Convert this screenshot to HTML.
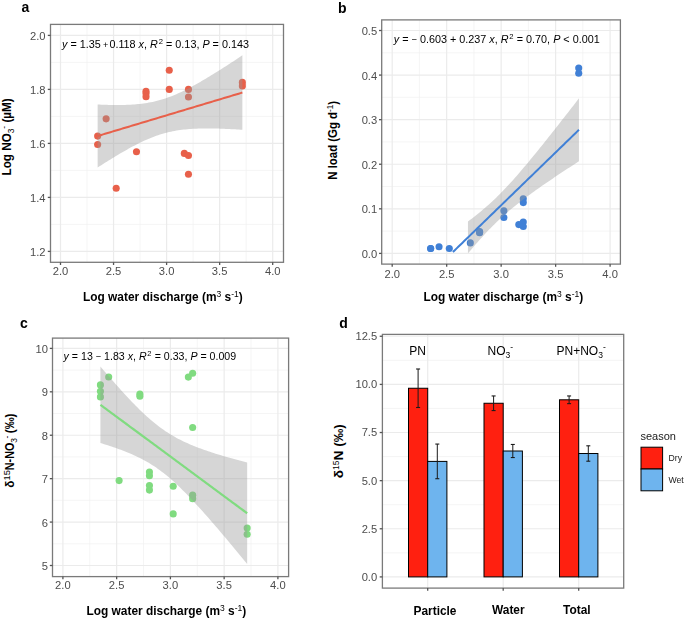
<!DOCTYPE html>
<html><head><meta charset="utf-8"><style>
html,body{margin:0;padding:0;background:#fff;width:685px;height:619px;overflow:hidden}
svg{display:block;font-family:"Liberation Sans", sans-serif}
svg text:not([transform]){will-change:transform}
</style></head><body>
<svg width="685" height="619" viewBox="0 0 685 619">
<rect x="0" y="0" width="685" height="619" fill="#fff"/>
<line x1="87.03" y1="24.40" x2="87.03" y2="262.30" stroke="#F0F0F0" stroke-width="0.7" />
<line x1="140.07" y1="24.40" x2="140.07" y2="262.30" stroke="#F0F0F0" stroke-width="0.7" />
<line x1="193.12" y1="24.40" x2="193.12" y2="262.30" stroke="#F0F0F0" stroke-width="0.7" />
<line x1="246.17" y1="24.40" x2="246.17" y2="262.30" stroke="#F0F0F0" stroke-width="0.7" />
<line x1="50.50" y1="224.40" x2="283.50" y2="224.40" stroke="#F0F0F0" stroke-width="0.7" />
<line x1="50.50" y1="170.40" x2="283.50" y2="170.40" stroke="#F0F0F0" stroke-width="0.7" />
<line x1="50.50" y1="116.40" x2="283.50" y2="116.40" stroke="#F0F0F0" stroke-width="0.7" />
<line x1="50.50" y1="62.40" x2="283.50" y2="62.40" stroke="#F0F0F0" stroke-width="0.7" />
<line x1="60.50" y1="24.40" x2="60.50" y2="262.30" stroke="#EBEBEB" stroke-width="1.2" />
<line x1="113.55" y1="24.40" x2="113.55" y2="262.30" stroke="#EBEBEB" stroke-width="1.2" />
<line x1="166.60" y1="24.40" x2="166.60" y2="262.30" stroke="#EBEBEB" stroke-width="1.2" />
<line x1="219.65" y1="24.40" x2="219.65" y2="262.30" stroke="#EBEBEB" stroke-width="1.2" />
<line x1="272.70" y1="24.40" x2="272.70" y2="262.30" stroke="#EBEBEB" stroke-width="1.2" />
<line x1="50.50" y1="251.40" x2="283.50" y2="251.40" stroke="#EBEBEB" stroke-width="1.2" />
<line x1="50.50" y1="197.40" x2="283.50" y2="197.40" stroke="#EBEBEB" stroke-width="1.2" />
<line x1="50.50" y1="143.40" x2="283.50" y2="143.40" stroke="#EBEBEB" stroke-width="1.2" />
<line x1="50.50" y1="89.40" x2="283.50" y2="89.40" stroke="#EBEBEB" stroke-width="1.2" />
<line x1="50.50" y1="35.40" x2="283.50" y2="35.40" stroke="#EBEBEB" stroke-width="1.2" />
<circle cx="97.64" cy="136.11" r="3.55" fill="#E8604A"/>
<circle cx="97.64" cy="144.48" r="3.55" fill="#E8604A"/>
<circle cx="106.12" cy="118.83" r="3.55" fill="#E8604A"/>
<circle cx="136.47" cy="151.77" r="3.55" fill="#E8604A"/>
<circle cx="116.20" cy="188.22" r="3.55" fill="#E8604A"/>
<circle cx="146.02" cy="91.29" r="3.55" fill="#E8604A"/>
<circle cx="146.02" cy="93.45" r="3.55" fill="#E8604A"/>
<circle cx="146.02" cy="96.69" r="3.55" fill="#E8604A"/>
<circle cx="169.25" cy="70.23" r="3.55" fill="#E8604A"/>
<circle cx="169.25" cy="89.40" r="3.55" fill="#E8604A"/>
<circle cx="188.46" cy="89.40" r="3.55" fill="#E8604A"/>
<circle cx="188.46" cy="96.96" r="3.55" fill="#E8604A"/>
<circle cx="184.32" cy="153.39" r="3.55" fill="#E8604A"/>
<circle cx="188.46" cy="155.55" r="3.55" fill="#E8604A"/>
<circle cx="188.46" cy="174.18" r="3.55" fill="#E8604A"/>
<circle cx="242.36" cy="82.38" r="3.55" fill="#E8604A"/>
<circle cx="242.36" cy="85.89" r="3.55" fill="#E8604A"/>
<path d="M97.64,104.54 L99.47,104.62 L101.30,104.69 L103.13,104.75 L104.96,104.81 L106.79,104.86 L108.63,104.90 L110.46,104.94 L112.29,104.97 L114.12,104.99 L115.95,104.99 L117.79,104.99 L119.62,104.98 L121.45,104.96 L123.28,104.92 L125.11,104.88 L126.95,104.81 L128.78,104.74 L130.61,104.64 L132.44,104.53 L134.27,104.41 L136.10,104.26 L137.94,104.09 L139.77,103.90 L141.60,103.69 L143.43,103.46 L145.26,103.20 L147.10,102.91 L148.93,102.60 L150.76,102.25 L152.59,101.88 L154.42,101.48 L156.26,101.04 L158.09,100.58 L159.92,100.08 L161.75,99.55 L163.58,98.99 L165.42,98.39 L167.25,97.76 L169.08,97.10 L170.91,96.41 L172.74,95.69 L174.57,94.94 L176.41,94.16 L178.24,93.35 L180.07,92.51 L181.90,91.65 L183.73,90.77 L185.57,89.86 L187.40,88.93 L189.23,87.98 L191.06,87.01 L192.89,86.03 L194.73,85.02 L196.56,84.00 L198.39,82.97 L200.22,81.92 L202.05,80.86 L203.89,79.78 L205.72,78.70 L207.55,77.60 L209.38,76.49 L211.21,75.37 L213.04,74.25 L214.88,73.11 L216.71,71.97 L218.54,70.82 L220.37,69.67 L222.20,68.50 L224.04,67.33 L225.87,66.16 L227.70,64.98 L229.53,63.79 L231.36,62.60 L233.20,61.41 L235.03,60.21 L236.86,59.01 L238.69,57.80 L240.52,56.59 L242.36,55.37 L242.36,129.77 L240.52,129.66 L238.69,129.54 L236.86,129.44 L235.03,129.34 L233.20,129.24 L231.36,129.14 L229.53,129.05 L227.70,128.97 L225.87,128.89 L224.04,128.81 L222.20,128.74 L220.37,128.68 L218.54,128.62 L216.71,128.57 L214.88,128.53 L213.04,128.50 L211.21,128.47 L209.38,128.46 L207.55,128.45 L205.72,128.45 L203.89,128.46 L202.05,128.49 L200.22,128.53 L198.39,128.58 L196.56,128.64 L194.73,128.72 L192.89,128.82 L191.06,128.93 L189.23,129.07 L187.40,129.22 L185.57,129.39 L183.73,129.58 L181.90,129.80 L180.07,130.04 L178.24,130.30 L176.41,130.59 L174.57,130.91 L172.74,131.26 L170.91,131.64 L169.08,132.05 L167.25,132.49 L165.42,132.96 L163.58,133.46 L161.75,134.00 L159.92,134.57 L158.09,135.17 L156.26,135.81 L154.42,136.47 L152.59,137.17 L150.76,137.90 L148.93,138.66 L147.10,139.44 L145.26,140.26 L143.43,141.10 L141.60,141.96 L139.77,142.85 L137.94,143.76 L136.10,144.70 L134.27,145.65 L132.44,146.62 L130.61,147.61 L128.78,148.62 L126.95,149.64 L125.11,150.68 L123.28,151.73 L121.45,152.80 L119.62,153.87 L117.79,154.96 L115.95,156.06 L114.12,157.17 L112.29,158.29 L110.46,159.42 L108.63,160.55 L106.79,161.70 L104.96,162.85 L103.13,164.01 L101.30,165.17 L99.47,166.34 L97.64,167.52 Z" fill="#999999" fill-opacity="0.4"/>
<path d="M97.64,136.03 L99.47,135.48 L101.30,134.93 L103.13,134.38 L104.96,133.83 L106.79,133.28 L108.63,132.73 L110.46,132.18 L112.29,131.63 L114.12,131.08 L115.95,130.53 L117.79,129.98 L119.62,129.43 L121.45,128.88 L123.28,128.33 L125.11,127.78 L126.95,127.23 L128.78,126.68 L130.61,126.13 L132.44,125.58 L134.27,125.03 L136.10,124.48 L137.94,123.93 L139.77,123.38 L141.60,122.83 L143.43,122.28 L145.26,121.73 L147.10,121.18 L148.93,120.63 L150.76,120.08 L152.59,119.53 L154.42,118.98 L156.26,118.43 L158.09,117.88 L159.92,117.33 L161.75,116.78 L163.58,116.23 L165.42,115.68 L167.25,115.13 L169.08,114.58 L170.91,114.03 L172.74,113.48 L174.57,112.93 L176.41,112.38 L178.24,111.83 L180.07,111.27 L181.90,110.72 L183.73,110.17 L185.57,109.62 L187.40,109.07 L189.23,108.52 L191.06,107.97 L192.89,107.42 L194.73,106.87 L196.56,106.32 L198.39,105.77 L200.22,105.22 L202.05,104.67 L203.89,104.12 L205.72,103.57 L207.55,103.02 L209.38,102.47 L211.21,101.92 L213.04,101.37 L214.88,100.82 L216.71,100.27 L218.54,99.72 L220.37,99.17 L222.20,98.62 L224.04,98.07 L225.87,97.52 L227.70,96.97 L229.53,96.42 L231.36,95.87 L233.20,95.32 L235.03,94.77 L236.86,94.22 L238.69,93.67 L240.52,93.12 L242.36,92.57" fill="none" stroke="#E8604A" stroke-width="2"/>
<rect x="50.50" y="24.40" width="233.00" height="237.90" fill="none" stroke="#7a7a7a" stroke-width="1.3"/>
<line x1="60.50" y1="262.30" x2="60.50" y2="265.00" stroke="#555555" stroke-width="1.3" />
<text x="60.50" y="275.20" font-size="11.2" text-anchor="middle" font-weight="normal" fill="#4D4D4D"  >2.0</text>
<line x1="113.55" y1="262.30" x2="113.55" y2="265.00" stroke="#555555" stroke-width="1.3" />
<text x="113.55" y="275.20" font-size="11.2" text-anchor="middle" font-weight="normal" fill="#4D4D4D"  >2.5</text>
<line x1="166.60" y1="262.30" x2="166.60" y2="265.00" stroke="#555555" stroke-width="1.3" />
<text x="166.60" y="275.20" font-size="11.2" text-anchor="middle" font-weight="normal" fill="#4D4D4D"  >3.0</text>
<line x1="219.65" y1="262.30" x2="219.65" y2="265.00" stroke="#555555" stroke-width="1.3" />
<text x="219.65" y="275.20" font-size="11.2" text-anchor="middle" font-weight="normal" fill="#4D4D4D"  >3.5</text>
<line x1="272.70" y1="262.30" x2="272.70" y2="265.00" stroke="#555555" stroke-width="1.3" />
<text x="272.70" y="275.20" font-size="11.2" text-anchor="middle" font-weight="normal" fill="#4D4D4D"  >4.0</text>
<line x1="47.80" y1="251.40" x2="50.50" y2="251.40" stroke="#555555" stroke-width="1.3" />
<text x="45.60" y="255.82" font-size="11.2" text-anchor="end" font-weight="normal" fill="#4D4D4D"  >1.2</text>
<line x1="47.80" y1="197.40" x2="50.50" y2="197.40" stroke="#555555" stroke-width="1.3" />
<text x="45.60" y="201.82" font-size="11.2" text-anchor="end" font-weight="normal" fill="#4D4D4D"  >1.4</text>
<line x1="47.80" y1="143.40" x2="50.50" y2="143.40" stroke="#555555" stroke-width="1.3" />
<text x="45.60" y="147.82" font-size="11.2" text-anchor="end" font-weight="normal" fill="#4D4D4D"  >1.6</text>
<line x1="47.80" y1="89.40" x2="50.50" y2="89.40" stroke="#555555" stroke-width="1.3" />
<text x="45.60" y="93.82" font-size="11.2" text-anchor="end" font-weight="normal" fill="#4D4D4D"  >1.8</text>
<line x1="47.80" y1="35.40" x2="50.50" y2="35.40" stroke="#555555" stroke-width="1.3" />
<text x="45.60" y="39.82" font-size="11.2" text-anchor="end" font-weight="normal" fill="#4D4D4D"  >2.0</text>
<line x1="419.44" y1="19.90" x2="419.44" y2="264.10" stroke="#F0F0F0" stroke-width="0.7" />
<line x1="473.91" y1="19.90" x2="473.91" y2="264.10" stroke="#F0F0F0" stroke-width="0.7" />
<line x1="528.39" y1="19.90" x2="528.39" y2="264.10" stroke="#F0F0F0" stroke-width="0.7" />
<line x1="582.86" y1="19.90" x2="582.86" y2="264.10" stroke="#F0F0F0" stroke-width="0.7" />
<line x1="381.70" y1="231.11" x2="620.40" y2="231.11" stroke="#F0F0F0" stroke-width="0.7" />
<line x1="381.70" y1="186.53" x2="620.40" y2="186.53" stroke="#F0F0F0" stroke-width="0.7" />
<line x1="381.70" y1="141.95" x2="620.40" y2="141.95" stroke="#F0F0F0" stroke-width="0.7" />
<line x1="381.70" y1="97.37" x2="620.40" y2="97.37" stroke="#F0F0F0" stroke-width="0.7" />
<line x1="381.70" y1="52.79" x2="620.40" y2="52.79" stroke="#F0F0F0" stroke-width="0.7" />
<line x1="392.20" y1="19.90" x2="392.20" y2="264.10" stroke="#EBEBEB" stroke-width="1.2" />
<line x1="446.68" y1="19.90" x2="446.68" y2="264.10" stroke="#EBEBEB" stroke-width="1.2" />
<line x1="501.15" y1="19.90" x2="501.15" y2="264.10" stroke="#EBEBEB" stroke-width="1.2" />
<line x1="555.62" y1="19.90" x2="555.62" y2="264.10" stroke="#EBEBEB" stroke-width="1.2" />
<line x1="610.10" y1="19.90" x2="610.10" y2="264.10" stroke="#EBEBEB" stroke-width="1.2" />
<line x1="381.70" y1="253.40" x2="620.40" y2="253.40" stroke="#EBEBEB" stroke-width="1.2" />
<line x1="381.70" y1="208.82" x2="620.40" y2="208.82" stroke="#EBEBEB" stroke-width="1.2" />
<line x1="381.70" y1="164.24" x2="620.40" y2="164.24" stroke="#EBEBEB" stroke-width="1.2" />
<line x1="381.70" y1="119.66" x2="620.40" y2="119.66" stroke="#EBEBEB" stroke-width="1.2" />
<line x1="381.70" y1="75.08" x2="620.40" y2="75.08" stroke="#EBEBEB" stroke-width="1.2" />
<line x1="381.70" y1="30.50" x2="620.40" y2="30.50" stroke="#EBEBEB" stroke-width="1.2" />
<circle cx="430.66" cy="248.50" r="3.55" fill="#4080D6"/>
<circle cx="439.05" cy="246.71" r="3.55" fill="#4080D6"/>
<circle cx="449.29" cy="248.50" r="3.55" fill="#4080D6"/>
<circle cx="470.32" cy="242.88" r="3.55" fill="#4080D6"/>
<circle cx="479.58" cy="232.67" r="3.55" fill="#4080D6"/>
<circle cx="479.58" cy="231.56" r="3.55" fill="#4080D6"/>
<circle cx="503.87" cy="210.78" r="3.55" fill="#4080D6"/>
<circle cx="503.87" cy="217.51" r="3.55" fill="#4080D6"/>
<circle cx="523.27" cy="198.70" r="3.55" fill="#4080D6"/>
<circle cx="523.27" cy="202.58" r="3.55" fill="#4080D6"/>
<circle cx="518.80" cy="224.60" r="3.55" fill="#4080D6"/>
<circle cx="523.27" cy="222.02" r="3.55" fill="#4080D6"/>
<circle cx="523.27" cy="226.52" r="3.55" fill="#4080D6"/>
<circle cx="578.72" cy="67.95" r="3.55" fill="#4080D6"/>
<circle cx="578.72" cy="73.30" r="3.55" fill="#4080D6"/>
<circle cx="430.66" cy="248.50" r="3.55" fill="#4080D6"/>
<circle cx="479.58" cy="232.00" r="3.55" fill="#4080D6"/>
<path d="M467.95,221.52 L469.84,220.10 L471.72,218.66 L473.60,217.20 L475.48,215.72 L477.36,214.21 L479.24,212.69 L481.12,211.13 L483.00,209.55 L484.88,207.95 L486.77,206.31 L488.65,204.64 L490.53,202.94 L492.41,201.20 L494.29,199.43 L496.17,197.63 L498.05,195.79 L499.93,193.92 L501.81,192.01 L503.70,190.07 L505.58,188.10 L507.46,186.09 L509.34,184.06 L511.22,182.00 L513.10,179.91 L514.98,177.79 L516.86,175.65 L518.74,173.48 L520.63,171.30 L522.51,169.10 L524.39,166.87 L526.27,164.63 L528.15,162.38 L530.03,160.11 L531.91,157.83 L533.79,155.53 L535.67,153.23 L537.56,150.91 L539.44,148.58 L541.32,146.25 L543.20,143.90 L545.08,141.55 L546.96,139.19 L548.84,136.83 L550.72,134.46 L552.60,132.08 L554.49,129.70 L556.37,127.31 L558.25,124.92 L560.13,122.52 L562.01,120.12 L563.89,117.72 L565.77,115.31 L567.65,112.90 L569.53,110.49 L571.42,108.07 L573.30,105.65 L575.18,103.23 L577.06,100.80 L578.94,98.37 L578.94,161.26 L577.06,162.48 L575.18,163.70 L573.30,164.93 L571.42,166.16 L569.53,167.39 L567.65,168.62 L565.77,169.86 L563.89,171.10 L562.01,172.35 L560.13,173.59 L558.25,174.85 L556.37,176.10 L554.49,177.36 L552.60,178.63 L550.72,179.90 L548.84,181.18 L546.96,182.46 L545.08,183.75 L543.20,185.05 L541.32,186.35 L539.44,187.67 L537.56,188.99 L535.67,190.32 L533.79,191.66 L531.91,193.02 L530.03,194.38 L528.15,195.76 L526.27,197.15 L524.39,198.56 L522.51,199.99 L520.63,201.43 L518.74,202.90 L516.86,204.38 L514.98,205.89 L513.10,207.42 L511.22,208.98 L509.34,210.56 L507.46,212.18 L505.58,213.82 L503.70,215.50 L501.81,217.20 L499.93,218.95 L498.05,220.72 L496.17,222.53 L494.29,224.38 L492.41,226.26 L490.53,228.17 L488.65,230.12 L486.77,232.10 L484.88,234.11 L483.00,236.15 L481.12,238.22 L479.24,240.31 L477.36,242.43 L475.48,244.58 L473.60,246.75 L471.72,248.94 L469.84,251.14 L467.95,253.37 Z" fill="#999999" fill-opacity="0.4"/>
<path d="M452.91,252.04 L454.79,250.21 L456.67,248.39 L458.55,246.57 L460.43,244.74 L462.31,242.92 L464.19,241.09 L466.07,239.27 L467.95,237.44 L469.84,235.62 L471.72,233.80 L473.60,231.97 L475.48,230.15 L477.36,228.32 L479.24,226.50 L481.12,224.68 L483.00,222.85 L484.88,221.03 L486.77,219.20 L488.65,217.38 L490.53,215.55 L492.41,213.73 L494.29,211.91 L496.17,210.08 L498.05,208.26 L499.93,206.43 L501.81,204.61 L503.70,202.78 L505.58,200.96 L507.46,199.14 L509.34,197.31 L511.22,195.49 L513.10,193.66 L514.98,191.84 L516.86,190.02 L518.74,188.19 L520.63,186.37 L522.51,184.54 L524.39,182.72 L526.27,180.89 L528.15,179.07 L530.03,177.25 L531.91,175.42 L533.79,173.60 L535.67,171.77 L537.56,169.95 L539.44,168.12 L541.32,166.30 L543.20,164.48 L545.08,162.65 L546.96,160.83 L548.84,159.00 L550.72,157.18 L552.60,155.36 L554.49,153.53 L556.37,151.71 L558.25,149.88 L560.13,148.06 L562.01,146.23 L563.89,144.41 L565.77,142.59 L567.65,140.76 L569.53,138.94 L571.42,137.11 L573.30,135.29 L575.18,133.46 L577.06,131.64 L578.94,129.82" fill="none" stroke="#4080D6" stroke-width="2"/>
<rect x="381.70" y="19.90" width="238.70" height="244.20" fill="none" stroke="#7a7a7a" stroke-width="1.3"/>
<line x1="392.20" y1="264.10" x2="392.20" y2="266.80" stroke="#555555" stroke-width="1.3" />
<text x="392.20" y="278.00" font-size="11.2" text-anchor="middle" font-weight="normal" fill="#4D4D4D"  >2.0</text>
<line x1="446.68" y1="264.10" x2="446.68" y2="266.80" stroke="#555555" stroke-width="1.3" />
<text x="446.68" y="278.00" font-size="11.2" text-anchor="middle" font-weight="normal" fill="#4D4D4D"  >2.5</text>
<line x1="501.15" y1="264.10" x2="501.15" y2="266.80" stroke="#555555" stroke-width="1.3" />
<text x="501.15" y="278.00" font-size="11.2" text-anchor="middle" font-weight="normal" fill="#4D4D4D"  >3.0</text>
<line x1="555.62" y1="264.10" x2="555.62" y2="266.80" stroke="#555555" stroke-width="1.3" />
<text x="555.62" y="278.00" font-size="11.2" text-anchor="middle" font-weight="normal" fill="#4D4D4D"  >3.5</text>
<line x1="610.10" y1="264.10" x2="610.10" y2="266.80" stroke="#555555" stroke-width="1.3" />
<text x="610.10" y="278.00" font-size="11.2" text-anchor="middle" font-weight="normal" fill="#4D4D4D"  >4.0</text>
<line x1="379.00" y1="253.40" x2="381.70" y2="253.40" stroke="#555555" stroke-width="1.3" />
<text x="377.20" y="257.82" font-size="11.2" text-anchor="end" font-weight="normal" fill="#4D4D4D"  >0.0</text>
<line x1="379.00" y1="208.82" x2="381.70" y2="208.82" stroke="#555555" stroke-width="1.3" />
<text x="377.20" y="213.24" font-size="11.2" text-anchor="end" font-weight="normal" fill="#4D4D4D"  >0.1</text>
<line x1="379.00" y1="164.24" x2="381.70" y2="164.24" stroke="#555555" stroke-width="1.3" />
<text x="377.20" y="168.66" font-size="11.2" text-anchor="end" font-weight="normal" fill="#4D4D4D"  >0.2</text>
<line x1="379.00" y1="119.66" x2="381.70" y2="119.66" stroke="#555555" stroke-width="1.3" />
<text x="377.20" y="124.08" font-size="11.2" text-anchor="end" font-weight="normal" fill="#4D4D4D"  >0.3</text>
<line x1="379.00" y1="75.08" x2="381.70" y2="75.08" stroke="#555555" stroke-width="1.3" />
<text x="377.20" y="79.50" font-size="11.2" text-anchor="end" font-weight="normal" fill="#4D4D4D"  >0.4</text>
<line x1="379.00" y1="30.50" x2="381.70" y2="30.50" stroke="#555555" stroke-width="1.3" />
<text x="377.20" y="34.92" font-size="11.2" text-anchor="end" font-weight="normal" fill="#4D4D4D"  >0.5</text>
<line x1="89.78" y1="338.10" x2="89.78" y2="576.60" stroke="#F0F0F0" stroke-width="0.7" />
<line x1="143.53" y1="338.10" x2="143.53" y2="576.60" stroke="#F0F0F0" stroke-width="0.7" />
<line x1="197.28" y1="338.10" x2="197.28" y2="576.60" stroke="#F0F0F0" stroke-width="0.7" />
<line x1="251.03" y1="338.10" x2="251.03" y2="576.60" stroke="#F0F0F0" stroke-width="0.7" />
<line x1="52.50" y1="543.79" x2="288.60" y2="543.79" stroke="#F0F0F0" stroke-width="0.7" />
<line x1="52.50" y1="500.37" x2="288.60" y2="500.37" stroke="#F0F0F0" stroke-width="0.7" />
<line x1="52.50" y1="456.95" x2="288.60" y2="456.95" stroke="#F0F0F0" stroke-width="0.7" />
<line x1="52.50" y1="413.53" x2="288.60" y2="413.53" stroke="#F0F0F0" stroke-width="0.7" />
<line x1="52.50" y1="370.11" x2="288.60" y2="370.11" stroke="#F0F0F0" stroke-width="0.7" />
<line x1="62.90" y1="338.10" x2="62.90" y2="576.60" stroke="#EBEBEB" stroke-width="1.2" />
<line x1="116.65" y1="338.10" x2="116.65" y2="576.60" stroke="#EBEBEB" stroke-width="1.2" />
<line x1="170.40" y1="338.10" x2="170.40" y2="576.60" stroke="#EBEBEB" stroke-width="1.2" />
<line x1="224.15" y1="338.10" x2="224.15" y2="576.60" stroke="#EBEBEB" stroke-width="1.2" />
<line x1="277.90" y1="338.10" x2="277.90" y2="576.60" stroke="#EBEBEB" stroke-width="1.2" />
<line x1="52.50" y1="565.50" x2="288.60" y2="565.50" stroke="#EBEBEB" stroke-width="1.2" />
<line x1="52.50" y1="522.08" x2="288.60" y2="522.08" stroke="#EBEBEB" stroke-width="1.2" />
<line x1="52.50" y1="478.66" x2="288.60" y2="478.66" stroke="#EBEBEB" stroke-width="1.2" />
<line x1="52.50" y1="435.24" x2="288.60" y2="435.24" stroke="#EBEBEB" stroke-width="1.2" />
<line x1="52.50" y1="391.82" x2="288.60" y2="391.82" stroke="#EBEBEB" stroke-width="1.2" />
<line x1="52.50" y1="348.40" x2="288.60" y2="348.40" stroke="#EBEBEB" stroke-width="1.2" />
<circle cx="108.70" cy="377.01" r="3.55" fill="#80DB80"/>
<circle cx="100.42" cy="384.92" r="3.55" fill="#80DB80"/>
<circle cx="100.42" cy="391.21" r="3.55" fill="#80DB80"/>
<circle cx="100.42" cy="396.90" r="3.55" fill="#80DB80"/>
<circle cx="139.87" cy="393.99" r="3.55" fill="#80DB80"/>
<circle cx="139.87" cy="396.16" r="3.55" fill="#80DB80"/>
<circle cx="119.12" cy="480.61" r="3.55" fill="#80DB80"/>
<circle cx="149.44" cy="472.02" r="3.55" fill="#80DB80"/>
<circle cx="149.44" cy="475.79" r="3.55" fill="#80DB80"/>
<circle cx="149.44" cy="485.52" r="3.55" fill="#80DB80"/>
<circle cx="149.44" cy="490.08" r="3.55" fill="#80DB80"/>
<circle cx="173.19" cy="486.22" r="3.55" fill="#80DB80"/>
<circle cx="188.35" cy="377.10" r="3.55" fill="#80DB80"/>
<circle cx="192.65" cy="373.19" r="3.55" fill="#80DB80"/>
<circle cx="192.65" cy="427.51" r="3.55" fill="#80DB80"/>
<circle cx="173.19" cy="513.92" r="3.55" fill="#80DB80"/>
<circle cx="192.65" cy="495.16" r="3.55" fill="#80DB80"/>
<circle cx="192.65" cy="498.63" r="3.55" fill="#80DB80"/>
<circle cx="247.16" cy="528.12" r="3.55" fill="#80DB80"/>
<circle cx="247.16" cy="534.24" r="3.55" fill="#80DB80"/>
<path d="M100.42,366.53 L102.27,368.71 L104.13,370.88 L105.99,373.04 L107.85,375.20 L109.70,377.34 L111.56,379.47 L113.42,381.59 L115.28,383.69 L117.13,385.79 L118.99,387.87 L120.85,389.93 L122.71,391.97 L124.56,394.00 L126.42,396.01 L128.28,398.00 L130.14,399.97 L131.99,401.91 L133.85,403.83 L135.71,405.73 L137.57,407.59 L139.42,409.43 L141.28,411.23 L143.14,413.00 L145.00,414.74 L146.85,416.43 L148.71,418.10 L150.57,419.72 L152.43,421.30 L154.28,422.83 L156.14,424.33 L158.00,425.78 L159.86,427.18 L161.71,428.54 L163.57,429.86 L165.43,431.13 L167.29,432.36 L169.14,433.55 L171.00,434.69 L172.86,435.80 L174.71,436.86 L176.57,437.89 L178.43,438.88 L180.29,439.84 L182.14,440.76 L184.00,441.66 L185.86,442.52 L187.72,443.36 L189.57,444.18 L191.43,444.97 L193.29,445.73 L195.15,446.48 L197.00,447.20 L198.86,447.91 L200.72,448.60 L202.58,449.28 L204.43,449.94 L206.29,450.58 L208.15,451.22 L210.01,451.84 L211.86,452.45 L213.72,453.04 L215.58,453.63 L217.44,454.21 L219.29,454.78 L221.15,455.34 L223.01,455.90 L224.87,456.45 L226.72,456.99 L228.58,457.52 L230.44,458.05 L232.30,458.57 L234.15,459.09 L236.01,459.60 L237.87,460.11 L239.73,460.61 L241.58,461.11 L243.44,461.60 L245.30,462.09 L247.16,462.58 L247.16,563.92 L245.30,561.66 L243.44,559.41 L241.58,557.15 L239.73,554.91 L237.87,552.66 L236.01,550.42 L234.15,548.19 L232.30,545.96 L230.44,543.74 L228.58,541.52 L226.72,539.31 L224.87,537.10 L223.01,534.90 L221.15,532.71 L219.29,530.53 L217.44,528.35 L215.58,526.19 L213.72,524.03 L211.86,521.88 L210.01,519.75 L208.15,517.62 L206.29,515.51 L204.43,513.41 L202.58,511.32 L200.72,509.25 L198.86,507.19 L197.00,505.16 L195.15,503.14 L193.29,501.14 L191.43,499.16 L189.57,497.20 L187.72,495.27 L185.86,493.36 L184.00,491.48 L182.14,489.63 L180.29,487.81 L178.43,486.02 L176.57,484.27 L174.71,482.55 L172.86,480.87 L171.00,479.23 L169.14,477.62 L167.29,476.06 L165.43,474.55 L163.57,473.07 L161.71,471.64 L159.86,470.26 L158.00,468.92 L156.14,467.62 L154.28,466.37 L152.43,465.16 L150.57,464.00 L148.71,462.87 L146.85,461.79 L145.00,460.74 L143.14,459.73 L141.28,458.76 L139.42,457.81 L137.57,456.90 L135.71,456.02 L133.85,455.17 L131.99,454.34 L130.14,453.54 L128.28,452.76 L126.42,452.01 L124.56,451.27 L122.71,450.55 L120.85,449.85 L118.99,449.17 L117.13,448.50 L115.28,447.85 L113.42,447.21 L111.56,446.58 L109.70,445.97 L107.85,445.36 L105.99,444.77 L104.13,444.19 L102.27,443.61 L100.42,443.04 Z" fill="#999999" fill-opacity="0.4"/>
<path d="M100.42,404.79 L102.27,406.16 L104.13,407.53 L105.99,408.91 L107.85,410.28 L109.70,411.65 L111.56,413.03 L113.42,414.40 L115.28,415.77 L117.13,417.14 L118.99,418.52 L120.85,419.89 L122.71,421.26 L124.56,422.64 L126.42,424.01 L128.28,425.38 L130.14,426.76 L131.99,428.13 L133.85,429.50 L135.71,430.87 L137.57,432.25 L139.42,433.62 L141.28,434.99 L143.14,436.37 L145.00,437.74 L146.85,439.11 L148.71,440.48 L150.57,441.86 L152.43,443.23 L154.28,444.60 L156.14,445.98 L158.00,447.35 L159.86,448.72 L161.71,450.09 L163.57,451.47 L165.43,452.84 L167.29,454.21 L169.14,455.59 L171.00,456.96 L172.86,458.33 L174.71,459.71 L176.57,461.08 L178.43,462.45 L180.29,463.82 L182.14,465.20 L184.00,466.57 L185.86,467.94 L187.72,469.32 L189.57,470.69 L191.43,472.06 L193.29,473.43 L195.15,474.81 L197.00,476.18 L198.86,477.55 L200.72,478.93 L202.58,480.30 L204.43,481.67 L206.29,483.04 L208.15,484.42 L210.01,485.79 L211.86,487.16 L213.72,488.54 L215.58,489.91 L217.44,491.28 L219.29,492.66 L221.15,494.03 L223.01,495.40 L224.87,496.77 L226.72,498.15 L228.58,499.52 L230.44,500.89 L232.30,502.27 L234.15,503.64 L236.01,505.01 L237.87,506.38 L239.73,507.76 L241.58,509.13 L243.44,510.50 L245.30,511.88 L247.16,513.25" fill="none" stroke="#80DB80" stroke-width="2.2"/>
<rect x="52.50" y="338.10" width="236.10" height="238.50" fill="none" stroke="#7a7a7a" stroke-width="1.3"/>
<line x1="62.90" y1="576.60" x2="62.90" y2="579.30" stroke="#555555" stroke-width="1.3" />
<text x="62.90" y="589.20" font-size="11.2" text-anchor="middle" font-weight="normal" fill="#4D4D4D"  >2.0</text>
<line x1="116.65" y1="576.60" x2="116.65" y2="579.30" stroke="#555555" stroke-width="1.3" />
<text x="116.65" y="589.20" font-size="11.2" text-anchor="middle" font-weight="normal" fill="#4D4D4D"  >2.5</text>
<line x1="170.40" y1="576.60" x2="170.40" y2="579.30" stroke="#555555" stroke-width="1.3" />
<text x="170.40" y="589.20" font-size="11.2" text-anchor="middle" font-weight="normal" fill="#4D4D4D"  >3.0</text>
<line x1="224.15" y1="576.60" x2="224.15" y2="579.30" stroke="#555555" stroke-width="1.3" />
<text x="224.15" y="589.20" font-size="11.2" text-anchor="middle" font-weight="normal" fill="#4D4D4D"  >3.5</text>
<line x1="277.90" y1="576.60" x2="277.90" y2="579.30" stroke="#555555" stroke-width="1.3" />
<text x="277.90" y="589.20" font-size="11.2" text-anchor="middle" font-weight="normal" fill="#4D4D4D"  >4.0</text>
<line x1="49.80" y1="565.50" x2="52.50" y2="565.50" stroke="#555555" stroke-width="1.3" />
<text x="48.00" y="569.92" font-size="11.2" text-anchor="end" font-weight="normal" fill="#4D4D4D"  >5</text>
<line x1="49.80" y1="522.08" x2="52.50" y2="522.08" stroke="#555555" stroke-width="1.3" />
<text x="48.00" y="526.50" font-size="11.2" text-anchor="end" font-weight="normal" fill="#4D4D4D"  >6</text>
<line x1="49.80" y1="478.66" x2="52.50" y2="478.66" stroke="#555555" stroke-width="1.3" />
<text x="48.00" y="483.08" font-size="11.2" text-anchor="end" font-weight="normal" fill="#4D4D4D"  >7</text>
<line x1="49.80" y1="435.24" x2="52.50" y2="435.24" stroke="#555555" stroke-width="1.3" />
<text x="48.00" y="439.66" font-size="11.2" text-anchor="end" font-weight="normal" fill="#4D4D4D"  >8</text>
<line x1="49.80" y1="391.82" x2="52.50" y2="391.82" stroke="#555555" stroke-width="1.3" />
<text x="48.00" y="396.24" font-size="11.2" text-anchor="end" font-weight="normal" fill="#4D4D4D"  >9</text>
<line x1="49.80" y1="348.40" x2="52.50" y2="348.40" stroke="#555555" stroke-width="1.3" />
<text x="48.00" y="352.82" font-size="11.2" text-anchor="end" font-weight="normal" fill="#4D4D4D"  >10</text>
<line x1="382.40" y1="552.84" x2="623.70" y2="552.84" stroke="#F0F0F0" stroke-width="0.7" />
<line x1="382.40" y1="504.71" x2="623.70" y2="504.71" stroke="#F0F0F0" stroke-width="0.7" />
<line x1="382.40" y1="456.59" x2="623.70" y2="456.59" stroke="#F0F0F0" stroke-width="0.7" />
<line x1="382.40" y1="408.46" x2="623.70" y2="408.46" stroke="#F0F0F0" stroke-width="0.7" />
<line x1="382.40" y1="360.34" x2="623.70" y2="360.34" stroke="#F0F0F0" stroke-width="0.7" />
<line x1="427.70" y1="334.40" x2="427.70" y2="588.10" stroke="#EBEBEB" stroke-width="1.2" />
<line x1="503.20" y1="334.40" x2="503.20" y2="588.10" stroke="#EBEBEB" stroke-width="1.2" />
<line x1="578.70" y1="334.40" x2="578.70" y2="588.10" stroke="#EBEBEB" stroke-width="1.2" />
<line x1="382.40" y1="576.90" x2="623.70" y2="576.90" stroke="#EBEBEB" stroke-width="1.2" />
<line x1="382.40" y1="528.77" x2="623.70" y2="528.77" stroke="#EBEBEB" stroke-width="1.2" />
<line x1="382.40" y1="480.65" x2="623.70" y2="480.65" stroke="#EBEBEB" stroke-width="1.2" />
<line x1="382.40" y1="432.52" x2="623.70" y2="432.52" stroke="#EBEBEB" stroke-width="1.2" />
<line x1="382.40" y1="384.40" x2="623.70" y2="384.40" stroke="#EBEBEB" stroke-width="1.2" />
<line x1="382.40" y1="336.27" x2="623.70" y2="336.27" stroke="#EBEBEB" stroke-width="1.2" />
<rect x="408.50" y="388.25" width="19.2" height="188.65" fill="#FF2010" stroke="#000" stroke-width="1"/>
<rect x="427.70" y="461.40" width="19.2" height="115.50" fill="#6EB4EE" stroke="#000" stroke-width="1"/>
<rect x="484.00" y="403.26" width="19.2" height="173.63" fill="#FF2010" stroke="#000" stroke-width="1"/>
<rect x="503.20" y="451.00" width="19.2" height="125.89" fill="#6EB4EE" stroke="#000" stroke-width="1"/>
<rect x="559.50" y="399.80" width="19.2" height="177.10" fill="#FF2010" stroke="#000" stroke-width="1"/>
<rect x="578.70" y="453.51" width="19.2" height="123.39" fill="#6EB4EE" stroke="#000" stroke-width="1"/>
<line x1="418.10" y1="369.00" x2="418.10" y2="407.50" stroke="#1A1A1A" stroke-width="1.0" />
<line x1="416.10" y1="369.00" x2="420.10" y2="369.00" stroke="#1A1A1A" stroke-width="1.1" />
<line x1="416.10" y1="407.50" x2="420.10" y2="407.50" stroke="#1A1A1A" stroke-width="1.1" />
<line x1="437.30" y1="444.07" x2="437.30" y2="478.72" stroke="#1A1A1A" stroke-width="1.0" />
<line x1="435.30" y1="444.07" x2="439.30" y2="444.07" stroke="#1A1A1A" stroke-width="1.1" />
<line x1="435.30" y1="478.72" x2="439.30" y2="478.72" stroke="#1A1A1A" stroke-width="1.1" />
<line x1="493.60" y1="395.95" x2="493.60" y2="410.58" stroke="#1A1A1A" stroke-width="1.0" />
<line x1="491.60" y1="395.95" x2="495.60" y2="395.95" stroke="#1A1A1A" stroke-width="1.1" />
<line x1="491.60" y1="410.58" x2="495.60" y2="410.58" stroke="#1A1A1A" stroke-width="1.1" />
<line x1="512.80" y1="444.46" x2="512.80" y2="457.55" stroke="#1A1A1A" stroke-width="1.0" />
<line x1="510.80" y1="444.46" x2="514.80" y2="444.46" stroke="#1A1A1A" stroke-width="1.1" />
<line x1="510.80" y1="457.55" x2="514.80" y2="457.55" stroke="#1A1A1A" stroke-width="1.1" />
<line x1="569.10" y1="395.95" x2="569.10" y2="403.65" stroke="#1A1A1A" stroke-width="1.0" />
<line x1="567.10" y1="395.95" x2="571.10" y2="395.95" stroke="#1A1A1A" stroke-width="1.1" />
<line x1="567.10" y1="403.65" x2="571.10" y2="403.65" stroke="#1A1A1A" stroke-width="1.1" />
<line x1="588.30" y1="445.81" x2="588.30" y2="461.21" stroke="#1A1A1A" stroke-width="1.0" />
<line x1="586.30" y1="445.81" x2="590.30" y2="445.81" stroke="#1A1A1A" stroke-width="1.1" />
<line x1="586.30" y1="461.21" x2="590.30" y2="461.21" stroke="#1A1A1A" stroke-width="1.1" />
<rect x="382.40" y="334.40" width="241.30" height="253.70" fill="none" stroke="#7a7a7a" stroke-width="1.3"/>
<line x1="379.70" y1="576.90" x2="382.40" y2="576.90" stroke="#555555" stroke-width="1.3" />
<text x="377.20" y="580.82" font-size="11.2" text-anchor="end" font-weight="normal" fill="#4D4D4D"  >0.0</text>
<line x1="379.70" y1="528.77" x2="382.40" y2="528.77" stroke="#555555" stroke-width="1.3" />
<text x="377.20" y="532.69" font-size="11.2" text-anchor="end" font-weight="normal" fill="#4D4D4D"  >2.5</text>
<line x1="379.70" y1="480.65" x2="382.40" y2="480.65" stroke="#555555" stroke-width="1.3" />
<text x="377.20" y="484.57" font-size="11.2" text-anchor="end" font-weight="normal" fill="#4D4D4D"  >5.0</text>
<line x1="379.70" y1="432.52" x2="382.40" y2="432.52" stroke="#555555" stroke-width="1.3" />
<text x="377.20" y="436.44" font-size="11.2" text-anchor="end" font-weight="normal" fill="#4D4D4D"  >7.5</text>
<line x1="379.70" y1="384.40" x2="382.40" y2="384.40" stroke="#555555" stroke-width="1.3" />
<text x="377.20" y="388.32" font-size="11.2" text-anchor="end" font-weight="normal" fill="#4D4D4D"  >10.0</text>
<line x1="379.70" y1="336.27" x2="382.40" y2="336.27" stroke="#555555" stroke-width="1.3" />
<text x="377.20" y="340.19" font-size="11.2" text-anchor="end" font-weight="normal" fill="#4D4D4D"  >12.5</text>
<line x1="427.70" y1="588.10" x2="427.70" y2="590.80" stroke="#555555" stroke-width="1.3" />
<line x1="503.20" y1="588.10" x2="503.20" y2="590.80" stroke="#555555" stroke-width="1.3" />
<line x1="578.70" y1="588.10" x2="578.70" y2="590.80" stroke="#555555" stroke-width="1.3" />
<text x="21.50" y="12.00" font-size="14" text-anchor="start" font-weight="bold" fill="#000"  >a</text>
<text x="338.00" y="12.50" font-size="14" text-anchor="start" font-weight="bold" fill="#000"  >b</text>
<text x="20.00" y="328.00" font-size="14" text-anchor="start" font-weight="bold" fill="#000"  >c</text>
<text x="339.20" y="328.30" font-size="14" text-anchor="start" font-weight="bold" fill="#000"  >d</text>
<text x="62.00" y="47.80" font-size="10.8" fill="#000"><tspan font-style="italic">y</tspan> = 1.35<tspan dx="2.2" font-size="9">+</tspan><tspan dx="1.2">0.118 </tspan><tspan font-style="italic">x</tspan>, <tspan font-style="italic">R</tspan><tspan dy="-4" dx="0.8" font-size="7.6">2</tspan><tspan dy="4" dx="0.2"> </tspan>= 0.13, <tspan font-style="italic">P</tspan> = 0.143</text>
<text x="393.80" y="42.70" font-size="10.8" fill="#000"><tspan font-style="italic">y</tspan> = <tspan font-size="9.4">−</tspan> 0.603 + 0.237 <tspan font-style="italic">x</tspan>, <tspan font-style="italic">R</tspan><tspan dy="-4" dx="0.8" font-size="7.6">2</tspan><tspan dy="4" dx="0.2"> </tspan>= 0.70, <tspan font-style="italic">P</tspan> &lt; 0.001</text>
<text x="63.60" y="360.20" font-size="10.8" fill="#000" textLength="172.5" lengthAdjust="spacingAndGlyphs"><tspan font-style="italic">y</tspan> = 13 <tspan font-size="9.4">−</tspan> 1.83 <tspan font-style="italic">x</tspan>, <tspan font-style="italic">R</tspan><tspan dy="-4" dx="0.8" font-size="7.6">2</tspan><tspan dy="4" dx="0.2"> </tspan>= 0.33, <tspan font-style="italic">P</tspan> = 0.009</text>
<text x="83.00" y="301.20" font-size="11.9" font-weight="bold" fill="#000">Log water discharge (m<tspan dy="-4" font-size="8.5" font-weight="normal">3</tspan><tspan dy="4"> s</tspan><tspan dy="-4" font-size="8.5" font-weight="normal">-1</tspan><tspan dy="4">)</tspan></text>
<text x="423.50" y="301.30" font-size="11.9" font-weight="bold" fill="#000">Log water discharge (m<tspan dy="-4" font-size="8.5" font-weight="normal">3</tspan><tspan dy="4"> s</tspan><tspan dy="-4" font-size="8.5" font-weight="normal">-1</tspan><tspan dy="4">)</tspan></text>
<text x="86.50" y="615.30" font-size="11.9" font-weight="bold" fill="#000">Log water discharge (m<tspan dy="-4" font-size="8.5" font-weight="normal">3</tspan><tspan dy="4"> s</tspan><tspan dy="-4" font-size="8.5" font-weight="normal">-1</tspan><tspan dy="4">)</tspan></text>
<text transform="translate(10.90,136.90) rotate(-90)" x="0" y="0" font-size="11.9" font-weight="bold" fill="#000" text-anchor="middle" textLength="77" lengthAdjust="spacingAndGlyphs">Log NO<tspan dy="3" font-size="8.5" font-weight="normal">3</tspan><tspan dy="-7" font-size="8.5" font-weight="normal">-</tspan><tspan dy="4"> (µM)</tspan></text>
<text transform="translate(337.00,140.35) rotate(-90)" x="0" y="0" font-size="11.9" font-weight="bold" fill="#000" text-anchor="middle" textLength="78.7" lengthAdjust="spacingAndGlyphs">N load (Gg d<tspan dy="-4" font-size="8.5" font-weight="normal">-1</tspan><tspan dy="4">)</tspan></text>
<text transform="translate(14.30,450.60) rotate(-90)" x="0" y="0" font-size="11.9" font-weight="bold" fill="#000" text-anchor="middle"><tspan>δ</tspan><tspan dy="-4" font-size="9.3" font-weight="normal">15</tspan><tspan dy="4" textLength="27.5" lengthAdjust="spacingAndGlyphs">N-NO</tspan><tspan dy="3" font-size="8.5" font-weight="normal">3</tspan><tspan dy="-7" dx="-0.5" font-size="8.5" font-weight="normal">-</tspan><tspan dy="4" dx="-1"> (‰)</tspan></text>
<text transform="translate(342.90,451.20) rotate(-90)" x="0" y="0" font-size="13.6" font-weight="bold" fill="#000" text-anchor="middle"><tspan>δ</tspan><tspan dy="-4" font-size="8.5" font-weight="normal">15</tspan><tspan dy="4">N (‰)</tspan></text>
<text x="435.00" y="614.80" font-size="11.9" text-anchor="middle" font-weight="bold" fill="#000"  >Particle</text>
<text x="508.30" y="613.60" font-size="11.9" text-anchor="middle" font-weight="bold" fill="#000"  >Water</text>
<text x="576.80" y="613.60" font-size="11.9" text-anchor="middle" font-weight="bold" fill="#000"  >Total</text>
<text x="417.50" y="355.10" font-size="12" text-anchor="middle" font-weight="normal" fill="#000"  >PN</text>
<text x="487.5" y="355.1" font-size="12" fill="#000">NO<tspan dy="3" font-size="8.5">3</tspan><tspan dy="-8" font-size="8.5">-</tspan></text>
<text x="556.5" y="354.7" font-size="12" fill="#000">PN+NO<tspan dy="3" font-size="8.5">3</tspan><tspan dy="-8" font-size="8.5">-</tspan></text>
<text x="640.50" y="440.00" font-size="11" text-anchor="start" font-weight="normal" fill="#1A1A1A"  >season</text>
<rect x="641.0" y="447.2" width="21.6" height="21.8" fill="#FF2010" stroke="#000" stroke-width="1"/>
<rect x="641.0" y="469.0" width="21.6" height="21.8" fill="#6EB4EE" stroke="#000" stroke-width="1"/>
<text x="668.50" y="460.80" font-size="8.7" text-anchor="start" font-weight="normal" fill="#1A1A1A"  >Dry</text>
<text x="668.50" y="483.10" font-size="8.7" text-anchor="start" font-weight="normal" fill="#1A1A1A"  >Wet</text>
</svg>
</body></html>
